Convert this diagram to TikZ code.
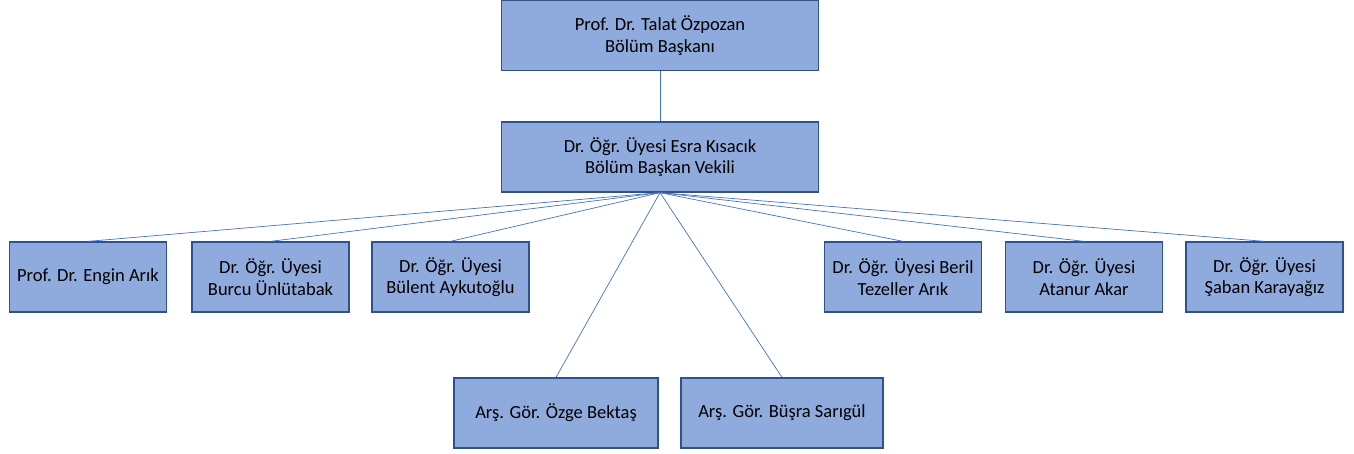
\documentclass[tikz,border=0pt]{standalone}
\usepackage{fontspec}
\setmainfont{Carlito}
\usepackage{tikz}
\definecolor{kutu}{HTML}{8FAADC}
\definecolor{kenar}{HTML}{2F528F}
\definecolor{cizgi}{HTML}{4472C4}
\tikzstyle{box} = [draw=kenar, fill=kutu, line width=1.3pt, align=center, inner sep=0pt, minimum height=70pt, font=\fontsize{18.5}{21.5}\selectfont]
\tikzstyle{line} = [draw=cizgi, line width=0.7pt]

\begin{document}
\begin{tikzpicture}[x=1pt,y=-1pt]
\useasboundingbox (0,0) rectangle (1354,453);
\node[box, minimum width=317pt] (baskan) at (660,35.5) {Prof. Dr. Talat Özpozan\\Bölüm Başkanı};
\node[box, minimum width=317pt] (vekil) at (660,157) {Dr. Öğr. Üyesi Esra Kısacık\\Bölüm Başkan Vekili};
\node[box, minimum width=157pt] (engin) at (88,277) {Prof. Dr. Engin Arık};
\node[box, minimum width=157pt] (burcu) at (270.5,277) {Dr. Öğr. Üyesi\\Burcu Ünlütabak};
\node[box, minimum width=157pt] (bulent) at (450.5,277) {Dr. Öğr. Üyesi\\Bülent Aykutoğlu};
\node[box, minimum width=157pt] (beril) at (903,277) {Dr. Öğr. Üyesi Beril\\Tezeller Arık};
\node[box, minimum width=157pt] (atanur) at (1084,277) {Dr. Öğr. Üyesi\\Atanur Akar};
\node[box, minimum width=157pt] (saban) at (1264.5,277) {Dr. Öğr. Üyesi\\Şaban Karayağız};
\node[box, minimum width=204pt] (ozge) at (556,413) {Arş. Gör. Özge Bektaş};
\node[box, minimum width=202pt] (busra) at (782,413) {Arş. Gör. Büşra Sarıgül};
\draw[line] (baskan) -- (vekil);
\foreach \k in {engin,burcu,bulent,beril,atanur,saban,ozge,busra}
  \draw[line] (vekil.south) -- (\k.north);
\end{tikzpicture}
\end{document}
